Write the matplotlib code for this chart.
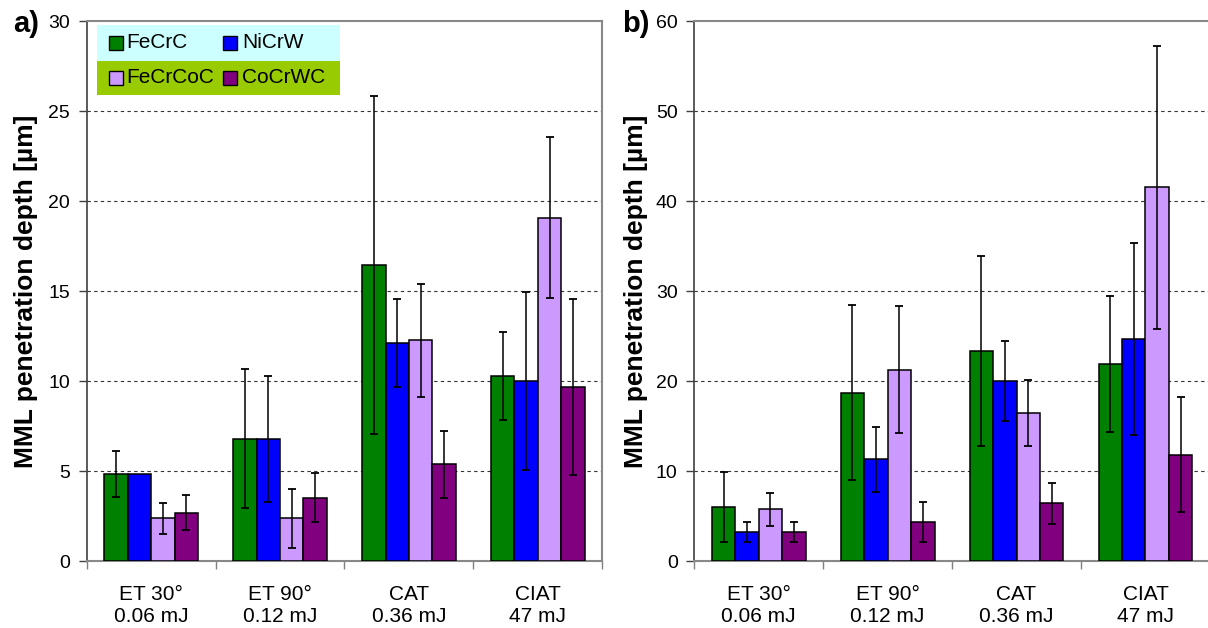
import numpy as np
import matplotlib
matplotlib.use("Agg")
import matplotlib.pyplot as plt
from matplotlib.patches import Rectangle
from matplotlib.lines import Line2D

plt.rcParams['font.family'] = ['Liberation Sans', 'DejaVu Sans']

categories = ["ET 30°\n0.06 mJ", "ET 90°\n0.12 mJ", "CAT\n0.36 mJ", "CIAT\n47 mJ"]
series = ["FeCrC", "NiCrW", "FeCrCoC", "CoCrWC"]
colors = ["#008000", "#0000FF", "#CC99FF", "#800080"]

# panel a) values and standard deviations
a_FeCrC = [4.83, 6.78, 16.46, 10.30]
a_NiCrW = [4.83, 6.78, 12.11, 10.00]
a_FeCrCoC = [2.37, 2.37, 12.26, 19.07]
a_CoCrWC = [2.69, 3.52, 5.37, 9.67]
a_FeCrC_err = [1.30, 3.86, 9.40, 2.45]
a_NiCrW_err = [np.nan, 3.50, 2.47, 4.93]
a_FeCrCoC_err = [0.87, 1.62, 3.15, 4.48]
a_CoCrWC_err = [0.95, 1.35, 1.88, 4.89]

# panel b) values and standard deviations
b_FeCrC = [6.00, 18.70, 23.33, 21.90]
b_NiCrW = [3.22, 11.30, 20.00, 24.70]
b_FeCrCoC = [5.74, 21.27, 16.44, 41.52]
b_CoCrWC = [3.22, 4.33, 6.41, 11.82]
b_FeCrC_err = [3.85, 9.72, 10.60, 7.60]
b_NiCrW_err = [1.15, 3.60, 4.47, 10.67]
b_FeCrCoC_err = [1.83, 7.09, 3.70, 15.74]
b_CoCrWC_err = [1.15, 2.22, 2.28, 6.39]

panel_a = ([a_FeCrC, a_NiCrW, a_FeCrCoC, a_CoCrWC],
           [a_FeCrC_err, a_NiCrW_err, a_FeCrCoC_err, a_CoCrWC_err])
panel_b = ([b_FeCrC, b_NiCrW, b_FeCrCoC, b_CoCrWC],
           [b_FeCrC_err, b_NiCrW_err, b_FeCrCoC_err, b_CoCrWC_err])

ylabel = "MML penetration depth [µm]"
FS = 14

fig = plt.figure(figsize=(12.08, 6.28), dpi=100)
W, H = 1208.0, 628.0
ax_a = fig.add_axes([86.7 / W, 67 / H, 515.6 / W, 540 / H])
ax_b = fig.add_axes([694.3 / W, 67 / H, 515.6 / W, 540 / H])


def draw_panel(ax, data, ymax, ystep, letter, letter_x, label_x):
    values, errors = data
    n = len(series)
    width = 1.0 / (n + 1.5)
    x = np.arange(len(categories))
    for i, (vals, errs) in enumerate(zip(values, errors)):
        pos = x + (i - (n - 1) / 2) * width
        ax.bar(pos, vals, width, color=colors[i], edgecolor="black",
               linewidth=1.1, zorder=3, label=series[i])
        ax.errorbar(pos, vals, yerr=np.array(errs, dtype=float), fmt="none",
                    ecolor="black", elinewidth=1.1, capsize=2.9,
                    capthick=1.3, zorder=4)
    ax.set_xlim(-0.5, len(categories) - 0.5)
    ax.set_ylim(0, ymax)
    ax.set_yticks(np.arange(0, ymax + 0.1, ystep))
    for v in np.arange(ystep, ymax, ystep):
        ax.axhline(v, color="#333333", lw=0.8, ls=(0, (3, 3)), zorder=1)

    ax.set_xticks(np.arange(-0.5, len(categories)), labels=[""] * (len(categories) + 1))
    ax.set_xticks(x, labels=categories, minor=True)
    ax.tick_params(axis="x", which="major", direction="out", length=6,
                   width=1.0, color="#808080")
    ax.tick_params(axis="x", which="minor", length=0, pad=17, labelsize=15)
    ax.tick_params(axis="y", direction="out", length=6, width=1.0,
                   color="#404040", pad=6, labelsize=FS)

    for side in ("top", "right", "bottom"):
        ax.spines[side].set_color("#888888")
        ax.spines[side].set_linewidth(1.5)
    ax.spines["left"].set_color("#404040")
    ax.spines["left"].set_linewidth(1.2)

    ax.set_ylabel(ylabel, fontsize=19, fontweight="bold")
    ax.yaxis.set_label_coords(label_x, 0.5)
    ax.text(letter_x, 0.995, letter, transform=ax.transAxes,
            fontsize=21, fontweight="bold", ha="left", va="center")


draw_panel(ax_a, panel_a, 30, 5, "a)", -0.143, -0.094)
draw_panel(ax_b, panel_b, 60, 10, "b)", -0.14, -0.09)

# two-row legend with a separate background for each row
rows = [(0.926, 0.9926, "#CCFFFF"), (0.863, 0.926, "#99CC00")]
col_marker = [0.0559, 0.278]
col_text = [0.0762, 0.301]
for r, (y0, y1, bg) in enumerate(rows):
    ax_a.add_patch(Rectangle((0.020, y0), 0.471, y1 - y0, transform=ax_a.transAxes,
                             facecolor=bg, edgecolor="none", zorder=5))
    yc = (y0 + y1) / 2
    for c in range(2):
        k = r * 2 + c
        ax_a.add_line(Line2D([col_marker[c]], [yc], transform=ax_a.transAxes,
                             marker="s", markersize=9.4, markerfacecolor=colors[k],
                             markeredgecolor="black", markeredgewidth=1.0,
                             linestyle="none", zorder=6))
        ax_a.text(col_text[c], yc, series[k], transform=ax_a.transAxes,
                  fontsize=15, ha="left", va="center", zorder=6)

fig.savefig("out.png", dpi=100)
